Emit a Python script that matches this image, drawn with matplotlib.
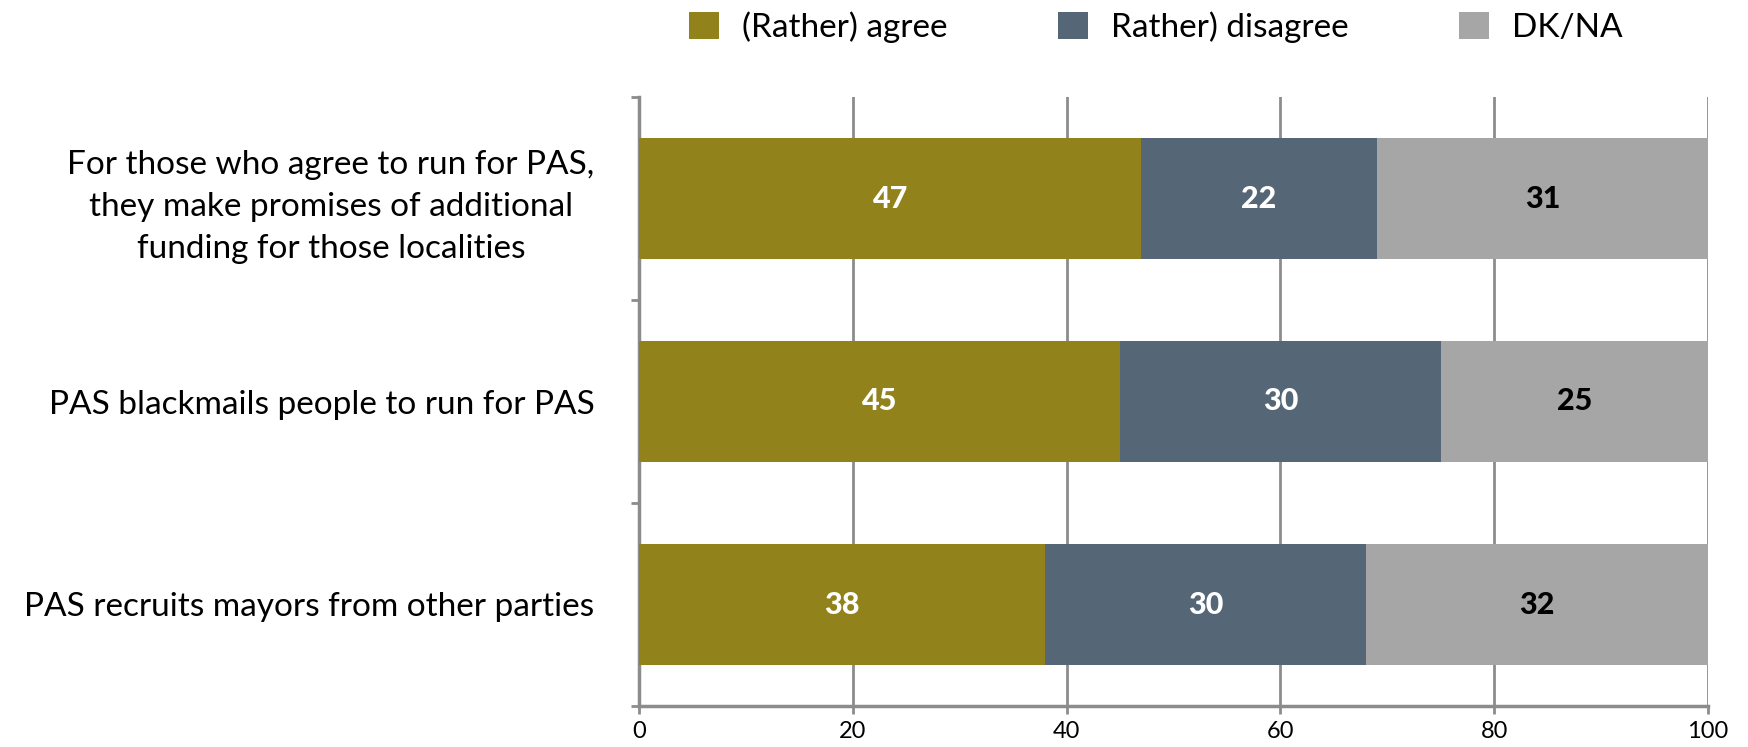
import matplotlib
matplotlib.use("Agg")
import matplotlib.pyplot as plt
import numpy as np

plt.rcParams['font.family'] = ['Lato', 'DejaVu Sans']

categories = [
    "For those who agree to run for PAS,\nthey make promises of additional\nfunding for those localities",
    "PAS blackmails people to run for PAS",
    "PAS recruits mayors from other parties",
]
series_names = ["(Rather) agree", "Rather) disagree", "DK/NA"]
agree = [47, 45, 38]
disagree = [22, 30, 30]
dkna = [31, 25, 32]
colors = ["#91821B", "#556677", "#A6A6A6"]
label_colors = ["white", "white", "black"]
xticks = [0, 20, 40, 60, 80, 100]

W, H = 1749, 747
fig = plt.figure(figsize=(W / 100, H / 100), dpi=100)
ax = fig.add_axes([639 / W, 1 - 706 / H, (1708 - 639) / W, (706 - 97) / H])

y = np.arange(len(categories))
left = np.zeros(len(categories))
for name, vals, c, lc in zip(series_names, [agree, disagree, dkna], colors, label_colors):
    ax.barh(y, vals, left=left, height=0.6, color=c, label=name, zorder=3)
    for yi, v, l in zip(y, vals, left):
        ax.text(l + v / 2, yi, f"{v}", ha="center", va="center", color=lc,
                fontsize=22, fontweight="black", zorder=4)
    left = left + np.array(vals)

ax.set_xlim(0, 100)
ax.set_ylim(len(categories) - 0.5, -0.5)
ax.set_xticks(xticks)
ax.set_xticklabels([str(t) for t in xticks], fontsize=17)
ax.set_yticks(y)
ax.set_yticklabels(categories, fontsize=24, ha="right", multialignment="center", linespacing=1.5)
ax.tick_params(axis="y", which="major", length=0, pad=32)
ax.set_yticks([-0.5, 0.5, 1.5, 2.5], minor=True)
ax.tick_params(axis="y", which="minor", length=6, width=2, color="#8C8C8C", direction="out")
ax.tick_params(axis="x", length=6, width=2, color="#8C8C8C", direction="out", pad=5)

ax.grid(axis="x", color="#8C8C8C", linewidth=2, zorder=0)
for s in ["top", "right"]:
    ax.spines[s].set_visible(False)
for s in ["left", "bottom"]:
    ax.spines[s].set_color("#8C8C8C")
    ax.spines[s].set_linewidth(2.5)

leg = fig.legend(loc="upper center", bbox_to_anchor=(1156 / W, 1.025), ncol=3, frameon=False,
                 fontsize=24, handlelength=0.9, handleheight=0.9, columnspacing=3.3,
                 handletextpad=0.7)

fig.savefig("out.png", dpi=100)
